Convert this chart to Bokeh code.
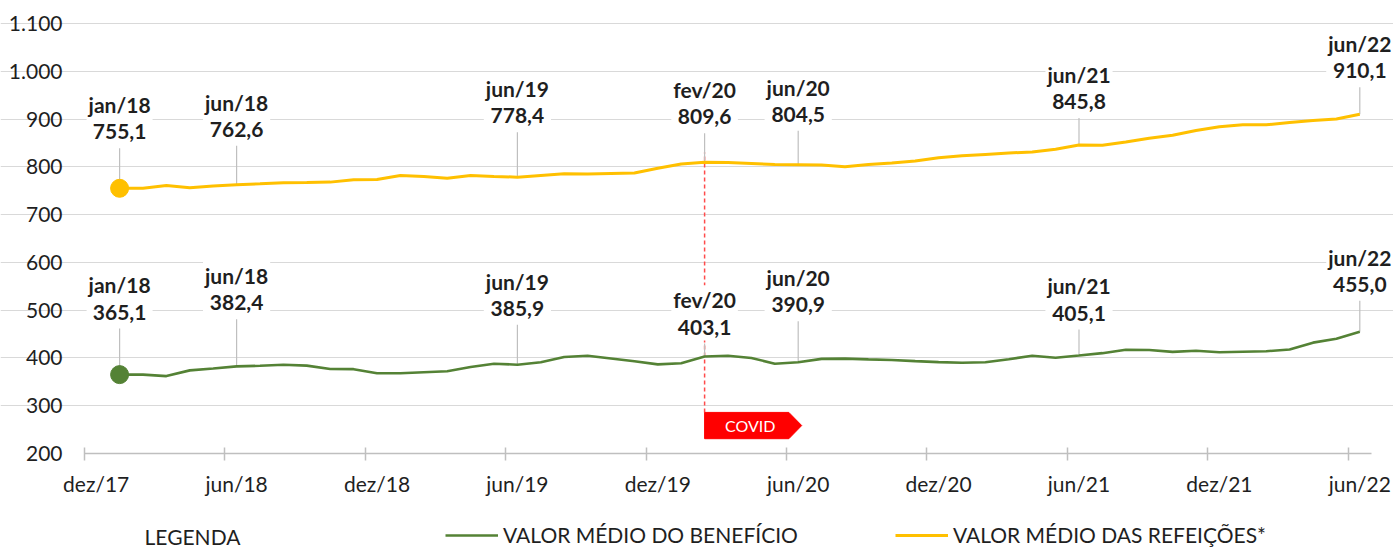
from bokeh.plotting import figure
from bokeh.models import FixedTicker, Label, Legend, LegendItem, Range1d, LinearAxis
from bokeh.embed import file_html
from bokeh.resources import INLINE

# ---------------- data ----------------
month_names = ["jan", "fev", "mar", "abr", "mai", "jun", "jul", "ago", "set", "out", "nov", "dez"]
months = [f"{month_names[(m - 1) % 12]}/{18 + (m - 1) // 12}" for m in range(1, 55)]  # jan/18 .. jun/22

beneficio = [365.1, 365.0, 362.0, 374.0, 378.0, 382.4, 383.6, 385.6, 384.0, 377.0, 376.5, 368.0,
             368.0, 370.0, 372.0, 381.0, 388.0, 385.9, 391.0, 402.0, 404.5, 399.0, 393.0, 386.5,
             389.0, 403.1, 404.5, 400.0, 388.0, 390.9, 398.0, 398.5, 397.0, 395.8, 393.3, 391.2,
             389.9, 391.0, 397.4, 404.5, 400.5, 405.1, 410.0, 417.0, 416.5, 412.8, 415.0, 412.0,
             413.0, 414.0, 417.7, 432.0, 440.0, 455.0]

refeicoes = [755.1, 755.3, 761.0, 756.0, 760.0, 762.6, 764.5, 766.6, 767.0, 768.0, 773.0, 773.5,
             782.0, 779.8, 776.0, 782.0, 780.0, 778.4, 782.0, 785.5, 785.0, 786.0, 787.0, 797.0,
             806.0, 809.6, 809.0, 807.0, 805.0, 804.5, 804.0, 800.0, 805.0, 808.0, 812.0, 819.0,
             823.0, 826.0, 829.0, 831.0, 837.0, 845.8, 845.0, 852.0, 860.0, 866.0, 876.0, 884.0,
             888.0, 888.0, 893.0, 897.0, 900.0, 910.1]

highlight_months = ["jan/18", "jun/18", "jun/19", "fev/20", "jun/20", "jun/21", "jun/22"]
covid_month = "fev/20"

x_tick_labels = ["dez/17", "jun/18", "dez/18", "jun/19", "dez/19", "jun/20", "dez/20", "jun/21", "dez/21", "jun/22"]
y_ticks = [200, 300, 400, 500, 600, 700, 800, 900, 1000, 1100]
y_tick_labels = ["200", "300", "400", "500", "600", "700", "800", "900", "1.000", "1.100"]

legend_title = "LEGENDA"
legend_labels = ["VALOR MÉDIO DO BENEFÍCIO", "VALOR MÉDIO DAS REFEIÇÕES*"]

# ---------------- styling / placement (screen px) ----------------
label_lift_ref = [57, 56, 62, 46, 51, 44, 44]
label_lift_ben = [63, 64, 57, 30, 58, 43, 48]

FONT = "Lato"
TXT = "#1f1f1f"
YELLOW = "#FFC000"
GREEN = "#548235"
GRID = "#d9d9d9"
AXIS = "#bfbfbf"

W, H = 1393, 550
AX_L, AX_T = 84, 23          # pixel of x-axis start, pixel of 1100 gridline
AX_Y, AX_R = 453, 1371       # pixel of y=200 baseline, pixel of x-axis right end
y0, y1 = 200, 1100
ppu = (AX_Y - AX_T) / (y1 - y0)            # px per value unit
x_lo, x_hi = -0.5, len(months) + 0.5        # category span (dez/17 = 0)
ppm = (AX_R - AX_L) / (x_hi - x_lo)         # px per month

xs = list(range(1, len(months) + 1))

p = figure(width=W, height=H, title=None,
           x_range=Range1d(x_lo - AX_L / ppm, x_hi + (W - AX_R) / ppm),
           y_range=Range1d(y0 - (H - AX_Y) / ppu, y1 + AX_T / ppu),
           output_backend="svg", toolbar_location=None, x_axis_location=None, y_axis_location=None,
           min_border_left=0, min_border_right=0, min_border_top=0, min_border_bottom=0)
p.outline_line_color = None
p.background_fill_color = "white"

# x axis pinned at the 200 baseline
major = list(range(0, len(months) + 1, 6))
xaxis = LinearAxis(fixed_location=y0)
xaxis.ticker = FixedTicker(ticks=major, minor_ticks=[t - 0.5 for t in major])
xaxis.major_label_overrides = {t: lab for t, lab in zip(major, x_tick_labels)}
xaxis.major_tick_line_color = None
xaxis.major_tick_in = 0
xaxis.major_tick_out = 0
xaxis.minor_tick_line_color = AXIS
xaxis.minor_tick_line_width = 1.5
xaxis.minor_tick_in = 6
xaxis.minor_tick_out = 7
xaxis.axis_line_color = None
xaxis.major_label_standoff = 10
xaxis.major_label_text_font = FONT
xaxis.major_label_text_font_size = "21px"
xaxis.major_label_text_color = TXT
p.add_layout(xaxis, "below")
p.segment(x0=[x_lo], y0=[y0], x1=[x_hi], y1=[y0], line_color=AXIS, line_width=1.5)

# y axis pinned at the left end of the category span
yaxis = LinearAxis(fixed_location=x_lo)
yaxis.ticker = FixedTicker(ticks=y_ticks)
yaxis.major_label_overrides = {t: lab for t, lab in zip(y_ticks, y_tick_labels)}
yaxis.axis_line_color = None
yaxis.major_tick_line_color = None
yaxis.minor_tick_line_color = None
yaxis.major_tick_in = 0
yaxis.major_tick_out = 0
yaxis.major_label_standoff = 22
yaxis.major_label_text_font = FONT
yaxis.major_label_text_font_size = "21px"
yaxis.major_label_text_color = TXT
p.add_layout(yaxis, "left")

p.xgrid.grid_line_color = None
p.ygrid.ticker = FixedTicker(ticks=y_ticks[1:])
p.ygrid.bounds = (x_lo, x_hi)
p.ygrid.grid_line_color = GRID
p.ygrid.grid_line_width = 1.2

# covid marker line + box
ci = xs[months.index(covid_month)]
box_lo, box_hi = 231, 286
p.segment(x0=[ci], y0=[box_hi], x1=[ci], y1=[830], line_color="#ff4b4b", line_width=1.5, line_dash="4 3")
p.patch(x=[ci, ci + 3.6, ci + 4.15, ci + 3.6, ci], y=[box_lo, box_lo, (box_lo + box_hi) / 2, box_hi, box_hi],
        fill_color="#ff0000", line_color="#ff0000")
p.add_layout(Label(x=ci + 1.95, y=(box_lo + box_hi) / 2, text="COVID", text_align="center",
                   text_baseline="middle", text_color="white", text_font=FONT, text_font_size="16px"))

# leader lines
for series, lifts in ((refeicoes, label_lift_ref), (beneficio, label_lift_ben)):
    hx, hy0, hy1 = [], [], []
    for m, lift in zip(highlight_months, lifts):
        k = months.index(m)
        hx.append(xs[k])
        hy0.append(series[k])
        hy1.append(series[k] + (lift - 17) / ppu)
    p.segment(x0=hx, y0=hy0, x1=hx, y1=hy1, line_color=AXIS, line_width=1.2)

# lines
r_ref = p.line(xs, refeicoes, line_color=YELLOW, line_width=3)
r_ben = p.line(xs, beneficio, line_color=GREEN, line_width=2.6)
p.scatter([xs[0]], [refeicoes[0]], size=18, fill_color=YELLOW, line_color=YELLOW)
p.scatter([xs[0]], [beneficio[0]], size=18, fill_color=GREEN, line_color=GREEN)

# value labels
for series, lifts in ((refeicoes, label_lift_ref), (beneficio, label_lift_ben)):
    for m, lift in zip(highlight_months, lifts):
        k = months.index(m)
        txt = f"{m}\n{series[k]:.1f}".replace(".", ",")
        p.add_layout(Label(x=xs[k], y=series[k], y_offset=lift + 13.5,
                           text=txt, text_align="center", text_baseline="middle",
                           text_font=FONT, text_font_size="21px", text_font_style="bold",
                           text_color=TXT, text_line_height=1.05,
                           background_fill_color="white", padding=2))

# legend (inside the frame, under the axis)
LEG_Y = 536  # page px of legend row centre
legend = Legend(items=[LegendItem(label=legend_labels[0], renderers=[r_ben]),
                       LegendItem(label=legend_labels[1], renderers=[r_ref])],
                orientation="horizontal", location=(445, H - LEG_Y - 11),
                glyph_width=53, glyph_height=22, label_standoff=5, spacing=97, label_height=22,
                label_text_font=FONT, label_text_font_size="21px", label_text_color=TXT,
                border_line_color=None, background_fill_alpha=0, padding=0, margin=0)
p.add_layout(legend, "center")
p.add_layout(Label(x=192, y=H - LEG_Y, x_units="screen", y_units="screen", text=legend_title,
                   text_align="center", text_baseline="middle", text_font=FONT,
                   text_font_size="21px", text_color=TXT))

open("out.html", "w").write(file_html(p, INLINE))
